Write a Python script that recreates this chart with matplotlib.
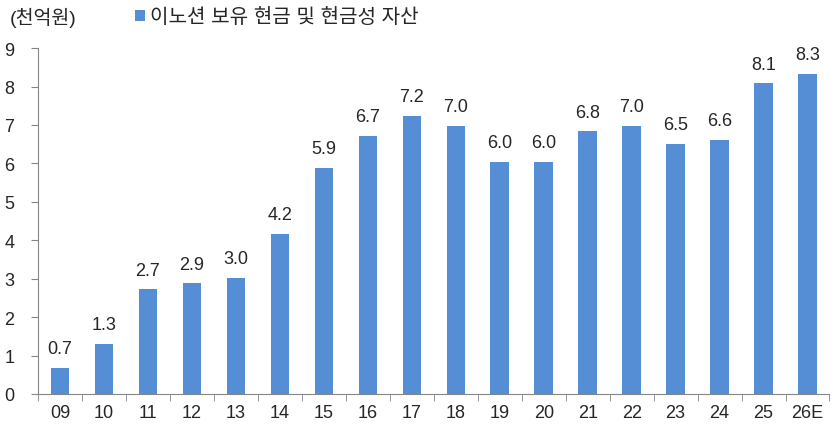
import numpy as np
import matplotlib.pyplot as plt

plt.rcParams['font.family'] = ['Liberation Sans', 'Noto Sans CJK KR', 'DejaVu Sans']

years = ['09', '10', '11', '12', '13', '14', '15', '16', '17', '18',
         '19', '20', '21', '22', '23', '24', '25', '26E']
cash = [0.67, 1.31, 2.72, 2.88, 3.03, 4.17, 5.89, 6.72, 7.24, 6.98,
        6.04, 6.04, 6.83, 6.98, 6.51, 6.61, 8.08, 8.33]
series_name = '이노션 보유 현금 및 현금성 자산'
unit = '(천억원)'

bar_color = '#558ed5'
axis_color = '#868686'
text_color = '#262626'
fs = 13

fig = plt.figure(figsize=(8.34, 4.27), dpi=100)
ax = fig.add_axes([0.0456, 0.075, 0.949, 0.81])

x = np.arange(len(years))
bars = ax.bar(x, cash, width=0.42, color=bar_color, label=series_name)

for xi, v in zip(x, cash):
    ax.text(xi, v + 0.28, f'{v:.1f}', ha='center', va='bottom',
            fontsize=fs, color=text_color)

ax.set_xlim(-0.5, len(years) - 0.5)
ax.set_ylim(0, 9)
ax.set_yticks(range(0, 10))
ax.set_xticks(x)
ax.set_xticklabels(years)
ax.set_xticks(np.arange(-0.5, len(years), 1), minor=True)

ax.tick_params(axis='x', which='major', length=0, pad=7, labelsize=fs, labelcolor=text_color)
ax.tick_params(axis='x', which='minor', length=5, color=axis_color, direction='out')
ax.tick_params(axis='y', length=5, color=axis_color, labelsize=fs, labelcolor=text_color, pad=12)

for side in ['top', 'right']:
    ax.spines[side].set_visible(False)
for side in ['left', 'bottom']:
    ax.spines[side].set_color(axis_color)

fig.text(0.012, 0.958, unit, fontsize=14, color=text_color, va='center')
fig.legend(handles=[bars], labels=[series_name], loc='center left',
           bbox_to_anchor=(0.14, 0.958), frameon=False, fontsize=14.5,
           handlelength=0.5, handleheight=0.5, handletextpad=0.25,
           labelcolor=text_color)

fig.savefig('out.png', dpi=100)
